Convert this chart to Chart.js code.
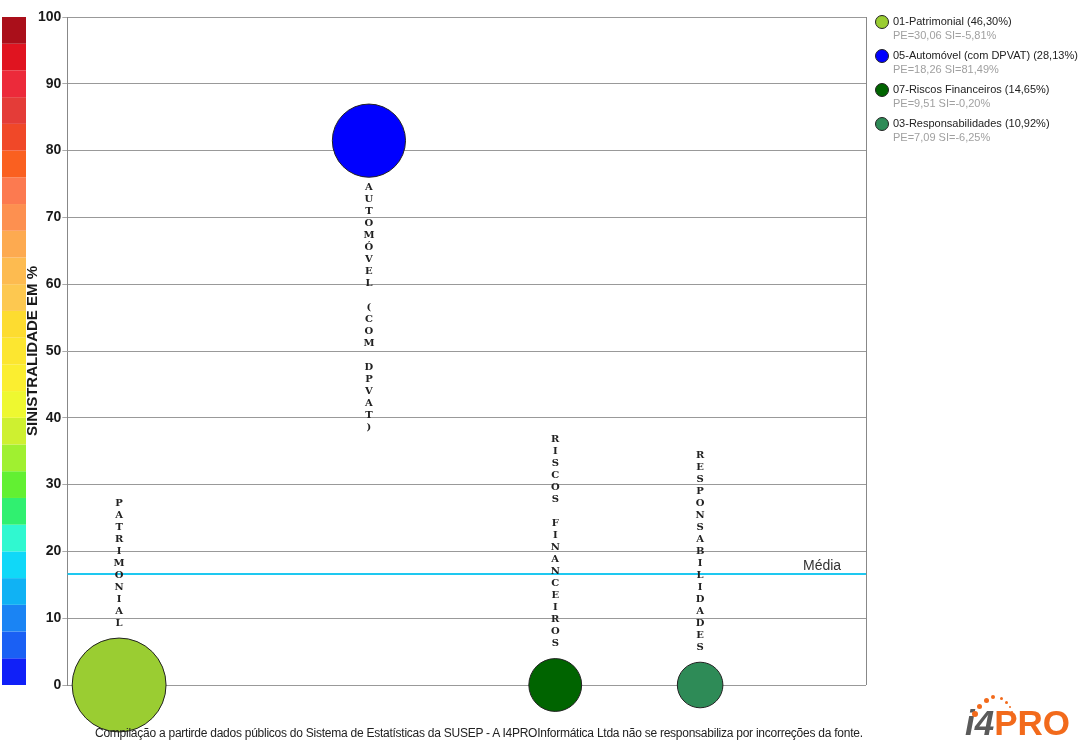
<!DOCTYPE html>
<html>
<head>
<meta charset="utf-8">
<script src="https://cdn.jsdelivr.net/npm/chart.js@4/dist/chart.umd.min.js"></script>
<style>
  html, body { margin: 0; padding: 0; background: #fff; }
  #wrap { position: relative; width: 1089px; height: 742px; overflow: hidden; font-family: "Liberation Sans", Arial, sans-serif; }
  #c { position: absolute; left: 0; top: 0; }
  #legend { position: absolute; left: 873px; top: 13px; }
  .item { position: relative; height: 34px; }
  .dot { position: absolute; left: 2px; top: 2px; width: 14px; height: 14px; border-radius: 50%; border: 1px solid #222; box-sizing: border-box; }
  .l1 { position: absolute; left: 20px; top: 2px; font-size: 11px; color: #222; white-space: nowrap; }
  .l2 { position: absolute; left: 20px; top: 16px; font-size: 11px; color: #a0a0a0; white-space: nowrap; }
  #footer { position: absolute; left: 95px; top: 726px; font-size: 12px; color: #222; white-space: nowrap; letter-spacing: -0.25px; }
  #logo { position: absolute; left: 965px; top: 704px; font-size: 35px; font-weight: bold; line-height: 38px; white-space: nowrap; }
  #logo .i4 { color: #5a5a5a; font-style: italic; }
  #logo .pro { color: #f26a1b; }
  .ld { position: absolute; border-radius: 50%; background: #f26a1b; }
</style>
</head>
<body>
<div id="wrap">
  <canvas id="c" width="1089" height="742"></canvas>
  <div id="legend"></div>
  <div id="footer">Compilação a partirde dados públicos do Sistema de Estatísticas da SUSEP - A I4PROInformática Ltda não se responsabiliza por incorreções da fonte.</div>
  <div id="logo"><span class="i4">i4</span><span class="pro">PRO</span></div>
</div>
<script>
// ---- data ----
const categories = ['01-Patrimonial', '05-Automóvel (com DPVAT)', '07-Riscos Financeiros', '03-Responsabilidades'];
const bubbleLabels = ['PATRIMONIAL', 'AUTOMÓVEL (COM DPVAT)', 'RISCOS FINANCEIROS', 'RESPONSABILIDADES'];
const shares = [46.30, 28.13, 14.65, 10.92];       // % participação
const peValues = [30.06, 18.26, 9.51, 7.09];
const siValues = [-5.81, 81.49, -0.20, -6.25];     // sinistralidade %
const xValues = [6.48, 37.76, 61.09, 79.23];
const mediaValue = 16.6;
const yTicks = [0, 10, 20, 30, 40, 50, 60, 70, 80, 90, 100];
const yTitle = 'SINISTRALIDADE EM %';
const bubbleColors = ['#9acd32', '#0000ff', '#006400', '#2e8b57'];
const scaleColors = ['#1020f8', '#1a60f4', '#1a84f4', '#10b2f4', '#10d8f8', '#30f8d0', '#30f070', '#62f032', '#a0f030', '#cef030',
  '#eef830', '#fbee30', '#fce630', '#fddc30', '#fdc850', '#fdbb50', '#fdaa50', '#fd9050', '#fc7a50', '#fa6020',
  '#f04828', '#e43c38', '#ec2a3a', '#e01420', '#aa0f1a'];

const fmt = v => v.toFixed(2).replace('.', ',');

// legend
const legend = document.getElementById('legend');
categories.forEach((c, i) => {
  const d = document.createElement('div');
  d.className = 'item';
  d.innerHTML = '<div class="dot" style="background:' + bubbleColors[i] + '"></div>' +
    '<div class="l1">' + c + ' (' + fmt(shares[i]) + '%)</div>' +
    '<div class="l2">PE=' + fmt(peValues[i]) + ' SI=' + fmt(siValues[i]) + '%</div>';
  legend.appendChild(d);
});

// logo dots
const logoDots = [[975, 714, 6], [979, 706, 5], [986, 700, 5], [993, 697, 4], [1001, 698, 3], [1006, 702, 3], [1010, 707, 2], [1012, 712, 2]];
logoDots.forEach(p => {
  const s = document.createElement('div');
  s.className = 'ld';
  s.style.left = (p[0] - p[2] / 2) + 'px';
  s.style.top = (p[1] - p[2] / 2) + 'px';
  s.style.width = p[2] + 'px';
  s.style.height = p[2] + 'px';
  document.getElementById('wrap').appendChild(s);
});

const colorBar = {
  id: 'colorBar',
  beforeDraw(chart) {
    const ctx = chart.ctx, y = chart.scales.y;
    const n = scaleColors.length, step = 100 / n;
    ctx.save();
    for (let i = 0; i < n; i++) {
      const y0 = y.getPixelForValue(i * step), y1 = y.getPixelForValue((i + 1) * step);
      ctx.fillStyle = scaleColors[i];
      ctx.fillRect(2, y1, 24, y0 - y1);
    }
    // axis title
    ctx.translate(33, (chart.chartArea.top + chart.chartArea.bottom) / 2);
    ctx.rotate(-Math.PI / 2);
    ctx.font = 'bold 15px "Liberation Sans", Arial, sans-serif';
    ctx.fillStyle = '#1a1a1a';
    ctx.textAlign = 'center';
    ctx.textBaseline = 'middle';
    ctx.fillText(yTitle, 0, 0);
    ctx.restore();
  }
};

const verticalLabels = {
  id: 'verticalLabels',
  afterDatasetsDraw(chart) {
    const ctx = chart.ctx;
    const meta = chart.getDatasetMeta(0);
    ctx.save();
    ctx.font = 'bold 10px "DejaVu Serif", "Liberation Serif", serif';
    ctx.fillStyle = '#222';
    ctx.textAlign = 'center';
    ctx.textBaseline = 'middle';
    const lh = 12;
    meta.data.forEach((el, i) => {
      const chars = Array.from(bubbleLabels[i]);
      const r = el.options.radius;
      const below = siValues[i] > 50;
      let start;
      if (below) start = el.y + r + 10;
      else start = el.y - r - 15 - (chars.length - 1) * lh;
      chars.forEach((ch, k) => { if (ch !== ' ') ctx.fillText(ch, el.x, start + k * lh); });
    });
    ctx.restore();
  }
};

const mediaLabel = {
  id: 'mediaLabel',
  afterDraw(chart) {
    const ctx = chart.ctx, y = chart.scales.y;
    ctx.save();
    ctx.font = '14px "Liberation Sans", Arial, sans-serif';
    ctx.fillStyle = '#333';
    ctx.textAlign = 'left';
    ctx.textBaseline = 'alphabetic';
    ctx.fillText('Média', 803, y.getPixelForValue(mediaValue) - 4);
    ctx.restore();
  }
};

new Chart(document.getElementById('c'), {
  data: {
    datasets: [
      {
        type: 'bubble',
        data: categories.map((c, i) => ({ x: xValues[i], y: Math.max(0, siValues[i]), r: 6.9 * Math.sqrt(shares[i]) })),
        backgroundColor: bubbleColors,
        borderColor: '#222',
        borderWidth: 1,
        clip: false,
        order: 1
      },
      {
        type: 'line',
        data: [{ x: 0, y: mediaValue }, { x: 100, y: mediaValue }],
        borderColor: '#1ec8f0',
        borderWidth: 2,
        pointRadius: 0,
        order: 2
      }
    ]
  },
  options: {
    responsive: false,
    animation: false,
    events: [],
    layout: { autoPadding: false, padding: { left: 37, top: 17, right: 223, bottom: 57 } },
    plugins: { legend: { display: false }, tooltip: { enabled: false } },
    scales: {
      x: {
        type: 'linear', min: 0, max: 100,
        ticks: { display: false, stepSize: 100 },
        grid: { drawTicks: false, color: ctx => (ctx.tick && ctx.tick.value === 100) ? '#888' : 'rgba(0,0,0,0)' },
        border: { display: false }
      },
      y: {
        type: 'linear', min: 0, max: 100,
        afterBuildTicks: s => { s.ticks = yTicks.map(v => ({ value: v })); },
        ticks: { color: '#1a1a1a', font: { family: '"Liberation Sans", Arial, sans-serif', size: 14, weight: 'bold' }, padding: 1 },
        grid: { color: '#999', tickLength: 5, tickColor: '#aaa' },
        border: { color: '#888' }
      }
    }
  },
  plugins: [colorBar, verticalLabels, mediaLabel]
});
</script>
</body>
</html>
